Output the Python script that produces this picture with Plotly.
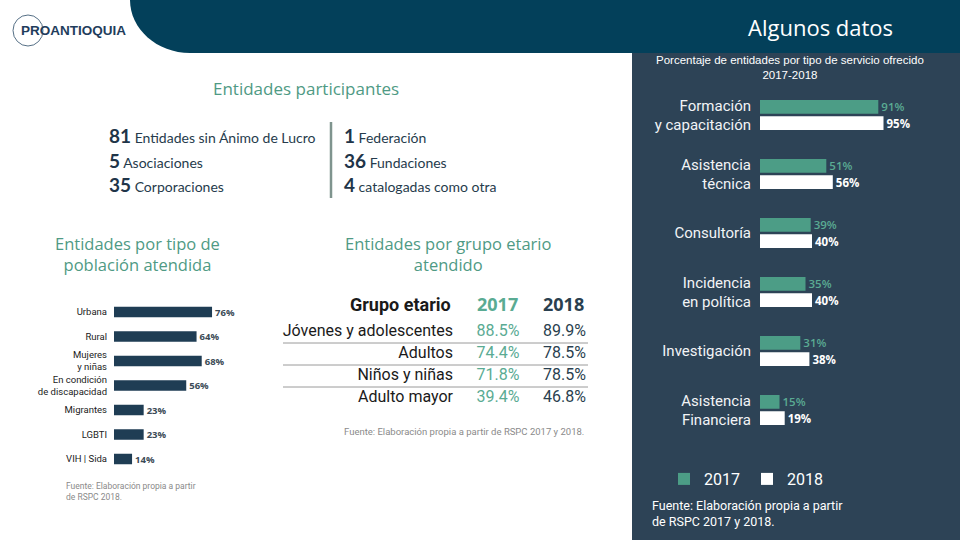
import plotly.graph_objects as go

W, H = 960, 540

# ---------------- data ----------------
services = ["Formación<br>y capacitación", "Asistencia<br>técnica", "Consultoría",
            "Incidencia<br>en política", "Investigación", "Asistencia<br>Financiera"]
pct_2017 = [91, 51, 39, 35, 31, 15]
pct_2018 = [95, 56, 40, 40, 38, 19]
years = ["2017", "2018"]

populations = ["Urbana", "Rural", "Mujeres<br>y niñas", "En condición<br>de discapacidad",
               "Migrantes", "LGBTI", "VIH | Sida"]
pop_pct = [76, 64, 68, 56, 23, 23, 14]

table_cols = ["Grupo etario", "2017", "2018"]
age_groups = ["Jóvenes y adolescentes", "Adultos", "Niños y niñas", "Adulto mayor"]
age_2017 = [88.5, 74.4, 71.8, 39.4]
age_2018 = [89.9, 78.5, 78.5, 46.8]

entity_counts_left = [81, 5, 35]
entity_labels_left = ["Entidades sin Ánimo de Lucro", "Asociaciones", "Corporaciones"]
entity_counts_right = [1, 36, 4]
entity_labels_right = ["Federación", "Fundaciones", "catalogadas como otra"]

# ---------------- styles ----------------
HEADER = "#03405a"
PANEL = "#2d4356"
GREEN = "#4c9d86"
GREEN_TXT = "#5aab93"
NAVY = "#1f3d54"
TITLE_GREEN = "#4f9a84"
DARK = "#1a1a1a"


def fx(x):
    return x / W


def fy(y):
    return 1 - y / H


fig = go.Figure()

# Right chart: services by year
fig.add_trace(go.Bar(
    y=services, x=pct_2017, orientation="h", name=years[0],
    marker=dict(color=GREEN, line=dict(width=0)),
    text=[f"{v}%" for v in pct_2017], textposition="outside", constraintext="none",
    textfont=dict(family="Open Sans", size=11.5, color=GREEN_TXT, weight=600),
    cliponaxis=False, xaxis="x", yaxis="y", hoverinfo="skip"))
fig.add_trace(go.Bar(
    y=services, x=pct_2018, orientation="h", name=years[1],
    marker=dict(color="#ffffff", line=dict(width=0)),
    text=[f"{v}%" for v in pct_2018], textposition="outside", constraintext="none",
    textfont=dict(family="Open Sans", size=11.5, color="#ffffff", weight=700),
    cliponaxis=False, xaxis="x", yaxis="y", hoverinfo="skip"))

# Left chart: population
fig.add_trace(go.Bar(
    y=populations, x=pop_pct, orientation="h", showlegend=False,
    marker=dict(color=NAVY, line=dict(width=0)), width=0.42,
    text=[f"{v}%" for v in pop_pct], textposition="outside", constraintext="none",
    textfont=dict(family="Open Sans", size=9.5, color="#3b4a56", weight=700),
    cliponaxis=False, xaxis="x2", yaxis="y2", hoverinfo="skip"))

# Table as text traces
col_values = [age_groups,
              [f"{v:.1f}%" for v in age_2017],
              [f"{v:.1f}%" for v in age_2018]]
col_colors = [DARK, GREEN_TXT, "#2a3f4f"]
for c, vals, colr in zip(table_cols, col_values, col_colors):
    fig.add_trace(go.Scatter(
        x=[c] * len(age_groups), y=age_groups, mode="text", text=vals,
        textposition="middle left", showlegend=False, hoverinfo="skip",
        textfont=dict(family="Roboto", size=16, color=colr),
        cliponaxis=False, xaxis="x3", yaxis="y3"))

fig.update_layout(
    width=W, height=H, margin=dict(l=0, r=0, t=0, b=0),
    paper_bgcolor="white", plot_bgcolor="rgba(0,0,0,0)",
    barmode="group", bargap=0.45, bargroupgap=0.16,
    xaxis=dict(domain=[fx(760), fx(890)], range=[0, 100], visible=False, fixedrange=True),
    yaxis=dict(domain=[fy(439.5), fy(85.5)], autorange="reversed", showgrid=False,
               zeroline=False, showline=False, ticks="", ticklabelstandoff=8,
               tickfont=dict(family="Roboto", size=15, color="#f2f4f6"), anchor="x"),
    xaxis2=dict(domain=[fx(114), fx(243)], range=[0, 100], visible=False, fixedrange=True,
                anchor="y2"),
    yaxis2=dict(domain=[fy(471.25), fy(299.75)], autorange="reversed", showgrid=False,
                zeroline=False, showline=False, ticks="", ticklabelstandoff=6,
                tickfont=dict(family="Roboto", size=9.5, color="#222222"), anchor="x2"),
    xaxis3=dict(domain=[fx(419.75), fx(619.25)], range=[-0.5, 2.5], visible=False,
                type="category", categoryorder="array", categoryarray=table_cols, anchor="y3"),
    yaxis3=dict(domain=[fy(409), fy(321)], range=[3.5, -0.5], visible=False,
                type="category", categoryorder="array", categoryarray=age_groups, anchor="x3"),
    legend=dict(orientation="h", x=fx(664), y=fy(462), xanchor="left", yanchor="top",
                font=dict(family="Roboto", size=16, color="#ffffff"),
                bgcolor="rgba(0,0,0,0)", entrywidth=38, traceorder="normal",
                itemclick=False, itemdoubleclick=False),
)

shapes = []
# right dark panel
shapes.append(dict(type="rect", xref="paper", yref="paper", x0=fx(632), x1=1, y0=0, y1=fy(53),
                   fillcolor=PANEL, line=dict(width=0), layer="below"))
# header band with curved (quarter-ellipse) left edge
path = (f"M {fx(130)},{fy(0)} L 1,{fy(0)} L 1,{fy(53)} L {fx(190)},{fy(53)} "
        f"C {fx(157)},{fy(53)} {fx(130)},{fy(29)} {fx(130)},{fy(0)} Z")
shapes.append(dict(type="path", xref="paper", yref="paper", path=path,
                   fillcolor=HEADER, line=dict(width=0), layer="below"))
# logo circle
shapes.append(dict(type="circle", xref="paper", yref="paper", x0=fx(13), x1=fx(43),
                   y0=fy(46), y1=fy(15), line=dict(color="#2a4a66", width=0.8)))
# divider in entity list
shapes.append(dict(type="line", xref="paper", yref="paper", x0=fx(331), x1=fx(331),
                   y0=fy(198), y1=fy(122), line=dict(color="#7f948e", width=2.5)))
# table separators
for i in range(len(age_groups) - 1):
    shapes.append(dict(type="line", xref="paper", yref="y3", x0=fx(283), x1=fx(588),
                       y0=i + 0.5, y1=i + 0.5, line=dict(color="#9a9a9a", width=1)))
fig.update_layout(shapes=shapes)

ann = []


def add_text(x, y, text, size, color, family="Roboto", xanchor="center", align="center",
             weight=None, **kw):
    f = dict(family=family, size=size, color=color)
    if weight:
        f["weight"] = weight
    ann.append(dict(x=fx(x), y=fy(y), xref="paper", yref="paper", text=text, showarrow=False,
                    xanchor=xanchor, yanchor="middle", align=align, font=f, **kw))


# Header
add_text(19, 31, "PROANTIOQUIA", 13.5, "#1f3d5c", family="Liberation Sans", xanchor="left",
         weight=700)
add_text(820, 27, "Algunos datos", 22, "#ffffff", family="Open Sans")
add_text(790, 68, "Porcentaje de entidades por tipo de servicio ofrecido<br>2017-2018", 11.5,
         "#ffffff", family="Liberation Sans", weight=400)

# Section titles
add_text(306, 89, "Entidades participantes", 17, TITLE_GREEN, family="Open Sans")
add_text(137, 254, "Entidades por tipo de<br>población atendida", 16.5, TITLE_GREEN,
         family="Open Sans")
add_text(448, 254, "Entidades por grupo etario<br>atendido", 16.5, TITLE_GREEN,
         family="Open Sans")

# Entity list
rows_y = [135, 160, 185]
for n, lab, y in zip(entity_counts_left, entity_labels_left, rows_y):
    add_text(107, y, f"<span style='font-size:19px;color:#1f3549'><b>{n}</b></span> {lab}",
             14, "#263b4c", family="Lato", xanchor="left", align="left")
for n, lab, y in zip(entity_counts_right, entity_labels_right, rows_y):
    add_text(342, y, f"<span style='font-size:19px;color:#1f3549'><b>{n}</b></span> {lab}",
             14, "#263b4c", family="Lato", xanchor="left", align="left")

# Table header (positioned on the table's category x-axis)
hdr_colors = [DARK, GREEN_TXT, "#2a3f4f"]
for i, (c, colr) in enumerate(zip(table_cols, hdr_colors)):
    ann.append(dict(x=i, y=fy(304), xref="x3", yref="paper", text=f"<b>{c}</b>",
                    showarrow=False, xanchor="right", yanchor="middle",
                    font=dict(family="Roboto" if i == 0 else "Open Sans",
                              size=18, color=colr)))
add_text(586, 431, "Fuente: Elaboración propia a partir de RSPC 2017 y 2018.", 9.5, "#8a8a8a",
         xanchor="right")

# Left source
add_text(64, 491, "Fuente: Elaboración propia a partir<br>de RSPC 2018.", 8.5, "#8a8a8a",
         xanchor="left", align="left")

# Right source
add_text(650, 513, "Fuente: Elaboración propia a partir<br>de RSPC 2017 y 2018.", 12.5,
         "#ffffff", xanchor="left", align="left")

fig.update_layout(annotations=ann)

fig.write_html("out.html", config={"displayModeBar": False},
               post_script="document.body.style.margin='0';"
                           "document.body.style.overflow='hidden';")
